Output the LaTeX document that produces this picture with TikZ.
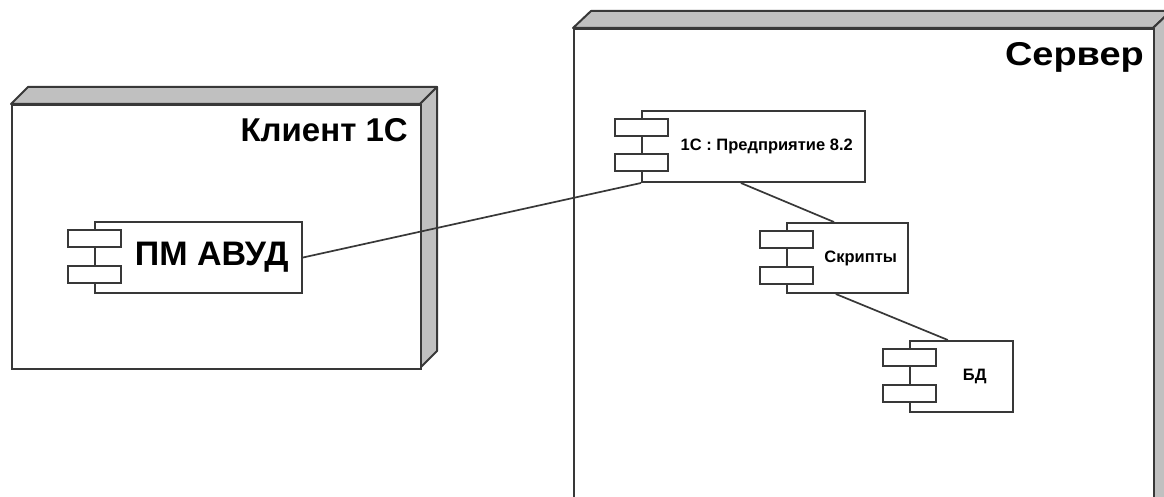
\documentclass[tikz,border=0pt]{standalone}
\usepackage{fontspec}
\setmainfont{Liberation Sans}
\usetikzlibrary{calc}
\definecolor{edgec}{HTML}{383838}
\definecolor{sidec}{HTML}{C0C0C0}
\begin{document}
\begin{tikzpicture}[x=1pt,y=-1pt,
  face/.style={draw=edgec,line width=2pt,fill=white,rectangle,inner sep=0pt},
  sideface/.style={draw=edgec,line width=2pt,fill=sidec,line join=round},
  comp/.style={draw=edgec,line width=2pt,fill=white,rectangle,inner sep=0pt},
  tabbox/.style={draw=edgec,line width=2pt,fill=white,rectangle,inner sep=0pt,minimum width=53pt,minimum height=17pt},
  bigtext/.style={font=\bfseries\fontsize{33}{36}\selectfont,inner sep=0pt},
  smalltext/.style={font=\bfseries\fontsize{16.5}{18}\selectfont,inner sep=0pt},
  link/.style={draw=edgec,line width=1.7pt}]
\useasboundingbox (0,0) rectangle (1164,497);
\clip (0,0) rectangle (1164,497);
% client node
\path[sideface] (11,104) -- (28,87) -- (437,87) -- (420,104) -- cycle;
\path[sideface] (420,104) -- (437,87) -- (437,351) -- (420,368) -- cycle;
\node[face,minimum width=409pt,minimum height=264pt,anchor=north west] (client) at (11,104) {};
\node[bigtext,anchor=base east] (clientlbl) at (408,142) {Клиент 1С};
% server node
\path[sideface] (573,28) -- (591,11) -- (1171,11) -- (1153,28) -- cycle;
\path[sideface] (1153,28) -- (1171,11) -- (1171,513) -- (1153,530) -- cycle;
\node[face,minimum width=580pt,minimum height=502pt,anchor=north west] (server) at (573,28) {};
\node[bigtext,anchor=base east] (serverlbl) at (1144,66) {\scalebox{1.15}[1]{Сервер}};
% components
\node[comp,minimum width=207pt,minimum height=71pt,anchor=north west] (pm) at (94,221) {};
\node[comp,minimum width=223pt,minimum height=71pt,anchor=north west] (ent) at (641,110) {};
\node[comp,minimum width=121pt,minimum height=70pt,anchor=north west] (skr) at (786,222) {};
\node[comp,minimum width=103pt,minimum height=71pt,anchor=north west] (bd) at (909,340) {};
% links
\draw[link] (pm.east) -- (ent.south west);
\draw[link] ($(ent.south west)!0.444!(ent.south east)$) -- ($(skr.north west)!0.39!(skr.north east)$);
\draw[link] ($(skr.south west)!0.405!(skr.south east)$) -- ($(bd.north west)!0.37!(bd.north east)$);
% tabs
\foreach \c in {pm,ent,skr,bd}{
  \node[tabbox] (\c-tabA) at ($(\c.north west)+(0,17.5)$) {};
  \node[tabbox] (\c-tabB) at ($(\c.north west)+(0,53)$) {};
}
% texts
\node[bigtext,font=\bfseries\fontsize{34}{36}\selectfont] (pmtxt) at ($(pm.center)+(13.25,0)$) {ПМ АВУД};
\node[smalltext] (enttxt) at ($(ent.center)+(13.25,0)$) {1С : Предприятие 8.2};
\node[smalltext] (skrtxt) at ($(skr.center)+(13.25,0)$) {Скрипты};
\node[smalltext] (bdtxt) at ($(bd.center)+(13.25,0)$) {БД};
\end{tikzpicture}
\end{document}
